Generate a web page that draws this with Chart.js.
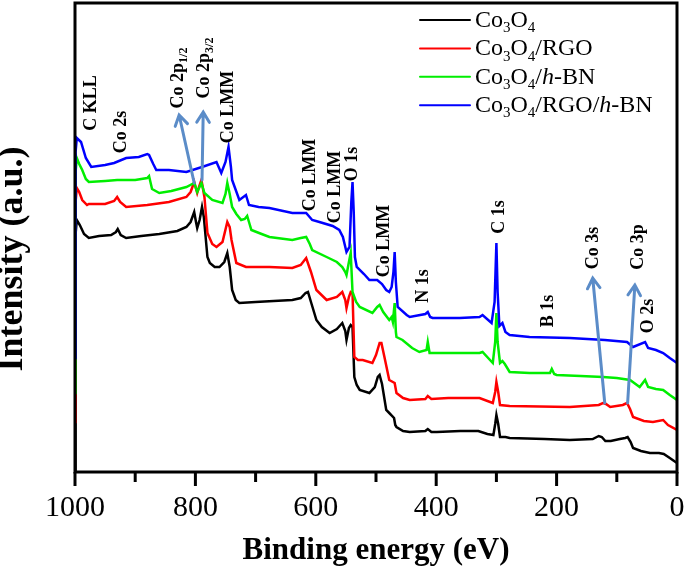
<!DOCTYPE html>
<html>
<head>
<meta charset="utf-8">
<script src="https://cdn.jsdelivr.net/npm/chart.js@4.4.1/dist/chart.umd.min.js"></script>
<style>
html, body { margin: 0; padding: 0; background: #fff; }
</style>
</head>
<body>
<canvas id="xps" width="685" height="570"></canvas>
<script>
var FONT = '"Liberation Serif", "Times New Roman", serif';

// survey spectra: binding energy (eV) and intensity (a.u.)
var co3o4BE = [1000,999,997,992,985,977,960,940,932,929,924,915,890,860,830,815,808,802,799,797,793,789,786,783,780,776,768,760,752,747,743,739,733,727,700,670,639,625,617,613,607,599,590,577,565,556,551,549,545,542,539,536,532,527,511,502,497,494,490,483,478,470,468,466,455,444,418,414,408,399,360,330,315,305,302,300,297,294,285,278,220,178,140,130,125,119,110,95,86,82,77,73,60,45,30,22,12,0];
var co3o4I = [2,238,252,247,238,234,236,237,240,243,237,234,236,238,241,245,250,260,250,244,252,265,255,235,215,209,205,205,210,219,205,182,172,169,170,171,172,174,179,180,168,152,145,139,143,149,141,132,144,147,145,95,87,82,79,85,95,97,88,62,59,54,47,45,41,40,41,43,40,40,41,41,38,37,48,57,48,35,35,34,33,32,33,36,35,31,31,33,34,35,30,24,21,19,19,18,14,9];

var rgoBE = [1000,999,997,993,988,980,977,950,935,930,925,915,880,844,815,808,802,797,794,790,785,780,772,765,755,747,743,740,732,716,677,639,625,616,608,599,582,565,556,551,549,545,542,539,536,530,522,506,500,494,491,486,478,469,466,455,444,418,414,408,380,328,306,302,300,297,294,278,178,130,123,118,111,90,83,78,73,55,40,23,15,0];
var rgoI = [50,270,284,280,272,267,268,268,271,275,270,265,267,270,275,280,290,279,285,292,275,239,228,225,230,250,245,232,209,205,205,204,207,214,200,182,172,175,180,172,164,175,180,179,115,112,112,109,117,129,129,115,92,89,79,74,72,73,76,73,74,74,69,80,90,80,67,66,65,67,69,68,65,67,69,63,55,51,50,52,47,42];

var hbnBE = [1000,999,997,993,988,982,977,950,930,900,880,877,872,860,840,815,802,797,790,785,772,755,750,747,743,739,732,724,718,714,710,707,690,677,639,625,616,610,606,582,565,556,551,549,545,542,539,533,527,506,498,494,488,478,474,472,469,467,466,456,440,428,416,414,411,380,328,323,306,302,300,298,294,290,286,278,245,211,208,204,200,160,123,100,78,62,53,48,35,23,12,0];
var hbnI = [79,300,314,308,302,293,290,291,292,292,294,296,283,279,281,285,289,280,289,279,272,269,278,289,278,265,258,252,253,256,248,242,238,235,232,234,235,228,222,215,210,205,200,197,210,219,180,170,165,159,165,167,160,152,155,150,169,140,135,132,124,120,122,130,119,119,119,120,109,130,159,130,109,111,108,100,99,99,103,98,97,96,95,94,92,85,92,85,83,82,77,72];

var rgoHbnBE = [1000,999,997,990,982,973,950,935,915,894,880,877,870,865,844,815,789,765,757,750,745,741,739,727,716,711,695,677,639,616,606,594,572,561,555,549,544,541,539,537,535,532,520,511,498,490,483,478,474,471,469,467,464,449,444,418,414,410,406,361,328,323,308,303,300,298,295,290,285,278,245,178,120,83,73,53,48,35,23,12,0];
var rgoHbnI = [114,320,334,330,314,305,307,309,314,315,318,317,308,302,302,300,305,310,299,310,325,305,292,272,277,267,265,264,259,259,252,250,246,242,235,220,225,270,290,260,215,205,198,192,192,188,182,180,185,200,220,190,165,157,155,158,160,155,154,154,155,157,149,170,229,180,146,149,140,137,135,134,132,130,125,130,124,122,119,114,109];

var seriesNames = ['Co_{3}O_{4}', 'Co_{3}O_{4}/RGO', 'Co_{3}O_{4}/*h*-BN', 'Co_{3}O_{4}/RGO/*h*-BN'];
var seriesColors = ['#000000', '#ff0000', '#00ee00', '#0000ff'];

var xTicks = [0, 200, 400, 600, 800, 1000];

// peak labels, placed at (binding energy, intensity)
var peakLabels = [
    { text: 'C KLL', be: 975, i: 369 },
    { text: 'Co 2s', be: 925, i: 340 },
    { text: 'Co 2p_{1/2}', be: 830, i: 394 },
    { text: 'Co 2p_{3/2}', be: 787, i: 404 },
    { text: 'Co LMM', be: 747, i: 365 },
    { text: 'Co LMM', be: 612, i: 297 },
    { text: 'Co LMM', be: 569, i: 285 },
    { text: 'O 1s', be: 542, i: 308 },
    { text: 'Co LMM', be: 488, i: 231 },
    { text: 'N 1s', be: 423, i: 186 },
    { text: 'C 1s', be: 298, i: 255 },
    { text: 'B 1s', be: 216, i: 161 },
    { text: 'Co 3s', be: 141, i: 224 },
    { text: 'Co 3p', be: 67, i: 225 },
    { text: 'O 2s', be: 50, i: 156 }
];

var peakArrows = [
    { from: [802, 289], to: [827, 357] },
    { from: [789, 292], to: [787, 360] },
    { from: [120, 69], to: [140, 194] },
    { from: [82, 69], to: [70, 187] }
];

function toPoints(be, it) {
    return be.map(function (e, k) { return { x: e, y: it[k] }; });
}

function parseRich(str) {
    var segs = [];
    var re = /_\{([^}]*)\}|\*([^*]*)\*|([^_*]+)/g;
    var m;
    while ((m = re.exec(str))) {
        if (m[1] !== undefined) segs.push({ t: m[1], sub: true });
        else if (m[2] !== undefined) segs.push({ t: m[2], it: true });
        else segs.push({ t: m[3] });
    }
    return segs;
}

function plainText(str) {
    return parseRich(str).map(function (s) { return s.t; }).join('');
}

function segFont(seg, size, bold) {
    var s = seg.sub ? Math.round(size * 0.64) : size;
    return (seg.it ? 'italic ' : '') + (bold ? 'bold ' : '') + s + 'px ' + FONT;
}

function richWidth(ctx, segs, size, bold) {
    var w = 0;
    segs.forEach(function (g) {
        ctx.font = segFont(g, size, bold);
        w += ctx.measureText(g.t).width;
    });
    return w;
}

function drawRich(ctx, segs, x, y, size, bold) {
    ctx.textAlign = 'left';
    ctx.textBaseline = 'alphabetic';
    segs.forEach(function (g) {
        ctx.font = segFont(g, size, bold);
        ctx.fillText(g.t, x, g.sub ? y + size * 0.22 : y);
        x += ctx.measureText(g.t).width;
    });
}

var decorations = {
    id: 'decorations',
    afterDatasetsDraw: function (chart) {
        var ctx = chart.ctx;
        var xs = chart.scales.x, ys = chart.scales.y;
        var area = chart.chartArea;
        ctx.save();

        // arrows
        ctx.strokeStyle = '#5b8cc8';
        ctx.lineWidth = 3;
        ctx.lineCap = 'round';
        peakArrows.forEach(function (a) {
            var x1 = xs.getPixelForValue(a.from[0]), y1 = ys.getPixelForValue(a.from[1]);
            var x2 = xs.getPixelForValue(a.to[0]), y2 = ys.getPixelForValue(a.to[1]);
            var ang = Math.atan2(y2 - y1, x2 - x1);
            ctx.beginPath();
            ctx.moveTo(x1, y1);
            ctx.lineTo(x2, y2);
            ctx.moveTo(x2 - 12 * Math.cos(ang - 0.55), y2 - 12 * Math.sin(ang - 0.55));
            ctx.lineTo(x2, y2);
            ctx.lineTo(x2 - 12 * Math.cos(ang + 0.55), y2 - 12 * Math.sin(ang + 0.55));
            ctx.stroke();
        });

        // peak labels, vertical
        ctx.fillStyle = '#000';
        peakLabels.forEach(function (p) {
            var segs = parseRich(p.text);
            var size = 18;
            var w = richWidth(ctx, segs, size, true);
            ctx.save();
            ctx.translate(xs.getPixelForValue(p.be), ys.getPixelForValue(p.i));
            ctx.rotate(-Math.PI / 2);
            drawRich(ctx, segs, -w / 2, size * 0.33, size, true);
            ctx.restore();
        });

        // legend
        seriesNames.forEach(function (name, k) {
            var base = 27 + k * 28.4;
            ctx.strokeStyle = seriesColors[k];
            ctx.lineWidth = 2;
            ctx.beginPath();
            ctx.moveTo(420, base - 7);
            ctx.lineTo(470, base - 7);
            ctx.stroke();
            ctx.fillStyle = '#000';
            drawRich(ctx, parseRich(name), 475, base, 24, false);
        });

        // frame
        ctx.strokeStyle = '#000';
        ctx.lineWidth = 3;
        ctx.strokeRect(area.left, area.top, area.right - area.left, area.bottom - area.top);

        // bottom ticks
        ctx.lineCap = 'butt';
        xs.ticks.forEach(function (t) {
            var px = xs.getPixelForValue(t.value);
            var len = xTicks.indexOf(t.value) >= 0 ? 14 : 10;
            ctx.beginPath();
            ctx.moveTo(px, area.bottom);
            ctx.lineTo(px, area.bottom + len);
            ctx.stroke();
        });

        // y title
        ctx.fillStyle = '#000';
        ctx.font = 'bold 36px ' + FONT;
        ctx.textAlign = 'center';
        ctx.textBaseline = 'middle';
        ctx.translate(13, 259);
        ctx.rotate(-Math.PI / 2);
        ctx.fillText('Intensity (a.u.)', 0, 0);
        ctx.restore();
    }
};

var spectra = [
    [co3o4BE, co3o4I], [rgoBE, rgoI], [hbnBE, hbnI], [rgoHbnBE, rgoHbnI]
];

new Chart(document.getElementById('xps').getContext('2d'), {
    type: 'line',
    data: {
        datasets: spectra.map(function (s, k) {
            return {
                label: plainText(seriesNames[k]),
                data: toPoints(s[0], s[1]),
                borderColor: seriesColors[k],
                borderWidth: 2.5,
                pointRadius: 0,
                tension: 0,
                fill: false,
                order: 4 - k
            };
        })
    },
    options: {
        responsive: false,
        animation: false,
        layout: { padding: { left: 75, top: 3, right: 8, bottom: 0 } },
        plugins: { legend: { display: false }, tooltip: { enabled: false } },
        scales: {
            x: {
                type: 'linear',
                reverse: true,
                min: 0,
                max: 1000,
                grid: { display: false, drawTicks: false },
                border: { display: false },
                ticks: {
                    stepSize: 100,
                    autoSkip: false,
                    maxRotation: 0,
                    padding: 18,
                    color: '#000',
                    font: { family: FONT, size: 30 },
                    callback: function (v) { return xTicks.indexOf(v) >= 0 ? String(v) : ''; }
                },
                title: {
                    display: true,
                    text: 'Binding energy (eV)',
                    color: '#000',
                    padding: 0,
                    font: { family: FONT, size: 31, weight: 'bold', lineHeight: 1.2 }
                },
                afterFit: function (s) {
                    s.height = 98;
                    s.paddingLeft = 0;
                    s.paddingRight = 0;
                }
            },
            y: {
                type: 'linear',
                display: false,
                min: 0,
                max: 469
            }
        }
    },
    plugins: [decorations]
});
</script>
</body>
</html>
